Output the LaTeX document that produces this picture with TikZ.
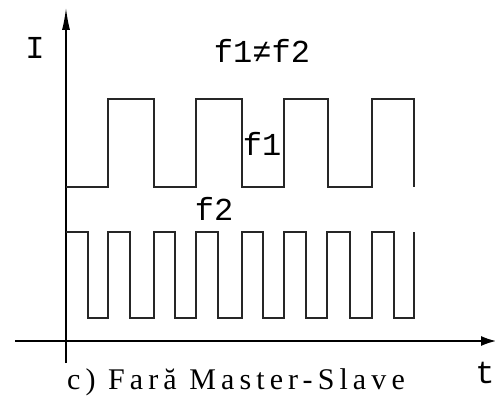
\documentclass[tikz,border=0pt]{standalone}
\usepackage{fontspec}
\setmainfont{Liberation Serif}
\newfontfamily\cadfont{Liberation Mono}
\newfontfamily\capfont[LetterSpace=17]{Liberation Serif}
\usepackage{tikz}
\usetikzlibrary{arrows.meta}

\begin{document}
\begin{tikzpicture}[x=1pt,y=-1pt,line join=miter]
\tikzset{axis/.style={line width=1.3pt,draw=black},
  wave/.style={line width=1.3pt,draw=black!85},
  lbl/.style={inner sep=0pt,anchor=base,font=\cadfont\fontsize{32}{32}\selectfont}}
\useasboundingbox (0,0) rectangle (495,401);
\coordinate (ytop) at (66,8);
\coordinate (ybot) at (66,363);
\coordinate (xleft) at (15,341);
\coordinate (xright) at (496,341);
\draw[axis,-{Latex[length=22pt,width=8pt]}] (ybot) -- (ytop);
\draw[axis,-{Latex[length=15pt,width=10pt]}] (xleft) -- (xright);

\draw[wave] (66,187) \foreach \r/\f in {108/154,196/242,284/328,372/414} { -- (\r,187) -- (\r,99) -- (\f,99) -- (\f,187) };
\draw[wave] (66,232) \foreach \f/\r in {88/108,130/154,175/196,218/242,263/284,306/327,350/372,394/414} { -- (\f,232) -- (\f,318) -- (\r,318) -- (\r,232) };

\node[lbl] (iLbl) at (35,59) {I};
\node[lbl] (tLbl) at (485,383) {t};
\node[lbl] (neq) at (262,63) {f1≠f2};
\node[lbl] (f1Lbl) at (262,155) {f1};
\node[lbl] (f2Lbl) at (214,220) {f2};
\node[inner sep=0pt,anchor=base,font=\capfont\fontsize{30}{30}\selectfont] (caption) at (236,389) {c) Fară Master-Slave};
\end{tikzpicture}
\end{document}
